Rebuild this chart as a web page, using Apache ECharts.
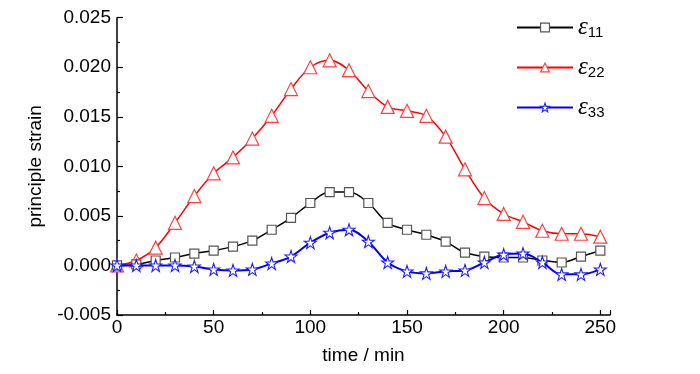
<!DOCTYPE html>
<html>
<head>
<meta charset="utf-8">
<script src="https://cdn.jsdelivr.net/npm/echarts@6/dist/echarts.min.js"></script>
<style>html,body{margin:0;padding:0;background:#fff}#c{width:700px;height:374px}</style>
</head>
<body>
<div id="c"></div>
<script>
var times = [0,10,20,30,40,50,60,70,80,90,100,110,120,130,140,150,160,170,180,190,200,210,220,230,240,250];
var e11 = [0.0000,0.0001,0.0005,0.0008,0.0012,0.0015,0.0019,0.0025,0.0036,0.0048,0.0063,0.0074,0.0074,0.0063,0.0043,0.0036,0.0031,0.0024,0.0013,0.0009,0.0008,0.0008,0.0005,0.0003,0.0009,0.0015];
var e22 = [0.0000,0.0005,0.0018,0.0043,0.0070,0.0093,0.0109,0.0128,0.0151,0.0178,0.0200,0.0207,0.0197,0.0176,0.0160,0.0156,0.0151,0.0130,0.0097,0.0068,0.0052,0.0044,0.0035,0.0032,0.0032,0.0029];
var e33 = [0.0000,0.0000,0.0000,0.0000,-0.0001,-0.0004,-0.0005,-0.0004,0.0002,0.0009,0.0023,0.0033,0.0036,0.0024,0.0003,-0.0006,-0.0008,-0.0006,-0.0005,0.0003,0.0011,0.0012,0.0003,-0.0009,-0.0009,-0.0004];
var seriesNames = ['ε11','ε22','ε33'];
var subs = ['11','22','33'];
var xTicks = [0,50,100,150,200,250];
var yTicks = ['-0.005','0.000','0.005','0.010','0.015','0.020','0.025'];

function pairs(v){ return times.map(function(t,i){ return [t, v[i]]; }); }
var star = 'path://M50,2 L61,36 L97,36 L68,57 L79,92 L50,71 L21,92 L32,57 L3,36 L39,36 Z';
var lineColors = ['#000000','#ff0000','#0000ff'];
var markBorders = ['#555555','#ff4040','#2020ff'];
var markSymbols = ['rect','triangle',star];

var chart = echarts.init(document.getElementById('c'));
chart.setOption({
  animation: false,
  backgroundColor: '#fff',
  grid: { left: 117, right: 90, top: 17.7, bottom: 59, containLabel: false },
  legend: {
    orient: 'vertical',
    left: 511, top: 6,
    itemWidth: 56, itemHeight: 11, itemGap: 7,
    data: seriesNames.map(function(n, i){
      return { name: n, itemStyle: { color: '#fff', borderColor: markBorders[i], borderWidth: 1.1 } };
    }),
    formatter: function(name){ var i = seriesNames.indexOf(name); return '{e|ε}{s|' + subs[i] + '}'; },
    textStyle: {
      rich: {
        e: { fontFamily: 'Liberation Serif', fontStyle: 'italic', fontSize: 25, color: '#000', verticalAlign: 'top', lineHeight: 25, padding: [0,0,4,0] },
        s: { fontFamily: 'Liberation Sans', fontSize: 15, color: '#000', verticalAlign: 'bottom', lineHeight: 15, padding: [14,0,0,0] }
      }
    }
  },
  xAxis: {
    type: 'value', min: 0, max: 255, interval: 50,
    name: 'time / min', nameLocation: 'middle', nameGap: 31,
    nameTextStyle: { fontFamily: 'Liberation Sans', fontSize: 19, color: '#000' },
    axisLine: { show: true, onZero: false, lineStyle: { color: '#000', width: 1.5 } },
    axisTick: { show: true, inside: true, length: 5, lineStyle: { color: '#000', width: 1.2 } },
    minorTick: { show: true, splitNumber: 2, length: 3, lineStyle: { color: '#000', width: 1.2 } },
    axisLabel: { showMaxLabel: false, margin: 3, fontFamily: 'Liberation Sans', fontSize: 19, color: '#000',
      formatter: function(v){ return xTicks.indexOf(v) >= 0 ? String(v) : ''; } },
    splitLine: { show: false }
  },
  yAxis: {
    type: 'value', min: -0.005, max: 0.025, interval: 0.005,
    name: 'principle strain', nameLocation: 'middle', nameGap: 72,
    nameTextStyle: { fontFamily: 'Liberation Sans', fontSize: 19, color: '#000' },
    axisLine: { show: true, onZero: false, lineStyle: { color: '#000', width: 1.5 } },
    axisTick: { show: true, inside: true, length: 6, lineStyle: { color: '#000', width: 1.2 } },
    minorTick: { show: true, splitNumber: 2, length: 3, lineStyle: { color: '#000', width: 1.2 } },
    axisLabel: { margin: 6, fontFamily: 'Liberation Sans', fontSize: 19, color: '#000',
      formatter: function(v){ var i = Math.round((v + 0.005) / 0.005); return yTicks[i] || ''; } },
    splitLine: { show: false }
  },
  series: [
    { name: seriesNames[0], type: 'line', data: pairs(e11), smooth: 0.35,
      symbol: markSymbols[0], symbolSize: 9, z: 3,
      lineStyle: { color: lineColors[0], width: 1.5 },
      itemStyle: { color: '#fff', borderColor: markBorders[0], borderWidth: 1.2 } },
    { name: seriesNames[1], type: 'line', data: pairs(e22), smooth: 0.35,
      symbol: markSymbols[1], symbolSize: 13, z: 2,
      lineStyle: { color: lineColors[1], width: 1.5 },
      itemStyle: { color: '#fff', borderColor: markBorders[1], borderWidth: 1.2 } },
    { name: seriesNames[2], type: 'line', data: pairs(e33), smooth: 0.35,
      symbol: markSymbols[2], symbolSize: 12, z: 4,
      lineStyle: { color: lineColors[2], width: 2 },
      itemStyle: { color: '#fff', borderColor: markBorders[2], borderWidth: 1.1 } }
  ]
});
</script>
</body>
</html>
